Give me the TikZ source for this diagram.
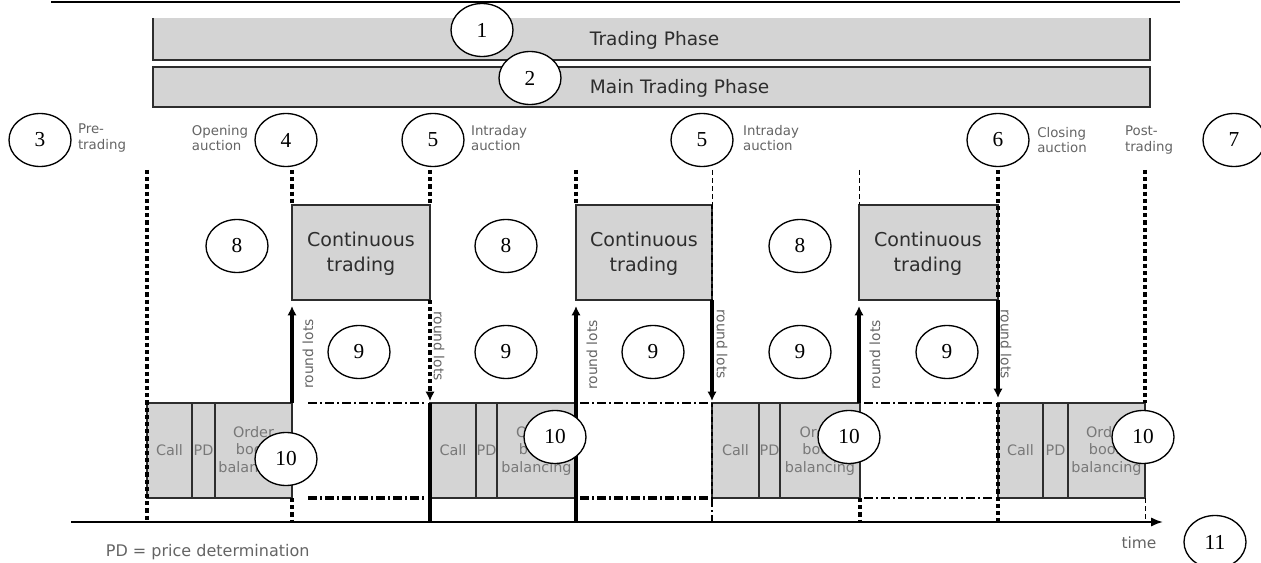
\documentclass[tikz,border=0pt]{standalone}
\usepackage{fontspec}
\setmainfont{Liberation Serif}
\newfontfamily\labelfont{DejaVu Sans}
\usetikzlibrary{shapes.geometric,arrows.meta}

\definecolor{barfill}{RGB}{212,212,212}
\definecolor{edgegray}{RGB}{45,45,45}
\definecolor{labgray}{RGB}{100,100,100}
\definecolor{boxgray}{RGB}{120,120,120}

\tikzset{every picture/.style={line width=0.75pt}}
\tikzset{
  numcirc/.style={ellipse, draw, fill=white, line width=1pt, minimum width=46.5pt, minimum height=39.75pt, inner sep=0pt, font=\fontsize{16}{18}\selectfont},
  bartext/.style={text=edgegray, font=\labelfont\fontsize{13.9}{16}\selectfont, anchor=west},
  conttext/.style={text=edgegray, align=center, font=\labelfont\fontsize{14.3}{18.5}\selectfont},
  phasetext/.style={text=labgray, align=left, font=\labelfont\fontsize{10}{11.5}\selectfont},
  boxtext/.style={text=boxgray, align=center, font=\labelfont\fontsize{10.8}{12.8}\selectfont},
  lotstext/.style={text=labgray, font=\labelfont\fontsize{10.4}{12}\selectfont},
  boxedge/.style={draw=edgegray, line width=1.5pt, fill=barfill},
  thickdash/.style={line width=2.6pt, dash pattern=on 3.2pt off 2.2pt},
  middash/.style={line width=1.6pt, dash pattern=on 3.2pt off 2.2pt},
  thindash/.style={line width=0.75pt, dash pattern=on 4pt off 2pt},
  thickline/.style={line width=2.4pt},
  lotarrow/.style={line width=2.4pt, -{Latex[length=7pt,width=7pt]}},
  thindashdot/.style={line width=1.1pt, dash pattern=on 6.75pt off 2.25pt on 1.5pt off 2.25pt},
  thickdashdot/.style={line width=2.4pt, dash pattern=on 6.75pt off 2.25pt on 1.5pt off 2.25pt}
}

\begin{document}
\begin{tikzpicture}[x=0.75pt,y=0.75pt,yscale=-1,xscale=1]
\useasboundingbox (0,0) rectangle (1261,563);

%Shape: Line [top rule]
\draw [line width=1.5pt] (51,2) -- (1180,2) ;
%Shape: Rectangle [trading phase]
\fill [barfill] (153,18) rectangle (1150,60) ;
\draw [draw=edgegray, line width=1.5pt] (153,18) -- (153,60) -- (1150,60) -- (1150,18) ;
%Shape: Rectangle [main trading phase]
\draw [boxedge] (153,67) rectangle (1150,107) ;

% Text Node
\node [bartext] (tp) at (585,40) {Trading Phase};
% Text Node
\node [bartext] (mtp) at (585,88) {Main Trading Phase};

% Text Node
\node [phasetext] (pre) at (102,138) {Pre-\\trading};
% Text Node
\node [phasetext] (open) at (220,138) {Opening\\auction};
% Text Node
\node [phasetext] (intraA) at (499,138) {Intraday\\auction};
% Text Node
\node [phasetext] (intraB) at (771,138) {Intraday\\auction};
% Text Node
\node [phasetext] (close) at (1062,140) {Closing\\auction};
% Text Node
\node [phasetext] (post) at (1149,140) {Post-\\trading};

%Shape: Rectangle [continuous trading]
\draw [boxedge] (292,205) rectangle (430,300) ;
\draw [boxedge] (576,205) rectangle (712,300) ;
\draw [boxedge] (859,205) rectangle (998,300) ;
% Text Node
\node [conttext] (ctA) at (361,254) {Continuous\\trading};
% Text Node
\node [conttext] (ctB) at (644,254) {Continuous\\trading};
% Text Node
\node [conttext] (ctC) at (928,254) {Continuous\\trading};

%Shape: Rectangle [auction Call | PD | order book balancing]
\draw [boxedge] (147,403) rectangle (292,498) ;
\draw [draw=edgegray, line width=1.5pt] (192,403) -- (192,498) (215,403) -- (215,498) ;
\draw [boxedge] (430,403) rectangle (576,498) ;
\draw [draw=edgegray, line width=1.5pt] (476,403) -- (476,498) (497,403) -- (497,498) ;
\draw [boxedge] (712,403) rectangle (860,498) ;
\draw [draw=edgegray, line width=1.5pt] (759,403) -- (759,498) (780,403) -- (780,498) ;
\draw [boxedge] (998,403) rectangle (1145,498) ;
\draw [draw=edgegray, line width=1.5pt] (1043,403) -- (1043,498) (1068,403) -- (1068,498) ;

% Text Node
\node [boxtext] (callA) at (169.5,450) {Call};
\node [boxtext] (pdA) at (203.5,450) {PD};
\node [boxtext] (obA) at (253.5,451) {Order\\book\\balancing};
% Text Node
\node [boxtext] (callB) at (453,450) {Call};
\node [boxtext] (pdB) at (486.5,450) {PD};
\node [boxtext] (obB) at (536.5,451) {Order\\book\\balancing};
% Text Node
\node [boxtext] (callC) at (735.5,450) {Call};
\node [boxtext] (pdC) at (769.5,450) {PD};
\node [boxtext] (obC) at (820,451) {Order\\book\\balancing};
% Text Node
\node [boxtext] (callD) at (1020.5,450) {Call};
\node [boxtext] (pdD) at (1055.5,450) {PD};
\node [boxtext] (obD) at (1106.5,451) {Order\\book\\balancing};

%Shape: Line [pre-trading start]
\draw [thickdash] (147,170) -- (147,522) ;
%Shape: Line [opening auction end]
\draw [thickdash] (292,170) -- (292,205) ;
\draw [lotarrow] (292,403) -- (292,306) ;
\draw [thickdash] (292,498) -- (292,522) ;
%Shape: Line [intraday auction start]
\draw [thickdash] (430,170) -- (430,205) ;
\draw [lotarrow, dash pattern=on 3.2pt off 2.2pt] (430,300) -- (430,401) ;
\draw [thickline] (430,403) -- (430,522) ;
%Shape: Line [intraday auction end]
\draw [thickdash] (576,170) -- (576,205) ;
\draw [lotarrow] (576,403) -- (576,306) ;
\draw [thickline] (576,403) -- (576,522) ;
%Shape: Line [intraday auction start]
\draw [thindash] (712,170) -- (712,205) ;
\draw [middash] (712,205) -- (712,300) ;
\draw [lotarrow] (712,300) -- (712,401) ;
\draw [middash] (712,403) -- (712,498) ;
\draw [thindashdot] (712,498) -- (712,522) ;
%Shape: Line [intraday auction end]
\draw [thindash] (859,170) -- (859,205) ;
\draw [lotarrow] (859,403) -- (859,306) ;
\draw [thickdash] (860,498) -- (860,522) ;
%Shape: Line [closing auction start]
\draw [thickdash] (998,170) -- (998,300) ;
\draw [lotarrow] (998,300) -- (998,398) ;
\draw [thickdash] (998,403) -- (998,522) ;
%Shape: Line [post-trading start]
\draw [thickdash] (1145,170) -- (1145,403) ;
\draw [thindash] (1145,498) -- (1145,522) ;

%Shape: Line [order book limits]
\draw [thindashdot] (308,403) -- (426,403) ;
\draw [thickdashdot] (308,498) -- (426,498) ;
\draw [thindashdot] (580,403) -- (709,403) ;
\draw [thickdashdot] (580,498) -- (709,498) ;
\draw [thindashdot] (864,403) -- (994,403) ;
\draw [thindashdot] (864,498) -- (994,498) ;

% Text Node
\node [lotstext, rotate=90] (rlA) at (308,354) {round lots};
\node [lotstext, rotate=-90] (rlB) at (439,346) {round lots};
\node [lotstext, rotate=90] (rlC) at (592,355) {round lots};
\node [lotstext, rotate=-90] (rlD) at (722,344) {round lots};
\node [lotstext, rotate=90] (rlE) at (875,355) {round lots};
\node [lotstext, rotate=-90] (rlF) at (1006,344) {round lots};

%Shape: Arrow [time axis]
\draw [line width=1.5pt, -{Latex[length=9pt,width=7pt]}] (71,522) -- (1163,522) ;
% Text Node
\node [text=labgray, font=\labelfont\fontsize{11.6}{13}\selectfont] (time) at (1139,543) {time};
% Text Node
\node [text=labgray, anchor=west, font=\labelfont\fontsize{12}{14}\selectfont] (pdnote) at (101,552) {PD = price determination};

%Shape: Circle [numbers]
\node [numcirc] (one) at (482,30) {1};
\node [numcirc] (two) at (530,78) {2};
\node [numcirc] (three) at (40,140) {3};
\node [numcirc] (four) at (286,140) {4};
\node [numcirc] (fiveA) at (433,140) {5};
\node [numcirc] (fiveB) at (702,140) {5};
\node [numcirc] (six) at (998,140) {6};
\node [numcirc] (seven) at (1234,140) {7};
\node [numcirc] (eightA) at (237,246) {8};
\node [numcirc] (eightB) at (506,246) {8};
\node [numcirc] (eightC) at (800,246) {8};
\node [numcirc] (nineA) at (359,352) {9};
\node [numcirc] (nineB) at (506,352) {9};
\node [numcirc] (nineC) at (653,352) {9};
\node [numcirc] (nineD) at (800,352) {9};
\node [numcirc] (nineE) at (947,352) {9};
\node [numcirc] (tenA) at (286,459) {10};
\node [numcirc] (tenB) at (555,437) {10};
\node [numcirc] (tenC) at (849,437) {10};
\node [numcirc] (tenD) at (1143,437) {10};
\node [numcirc] (eleven) at (1215,542) {11};

\end{tikzpicture}
\end{document}
